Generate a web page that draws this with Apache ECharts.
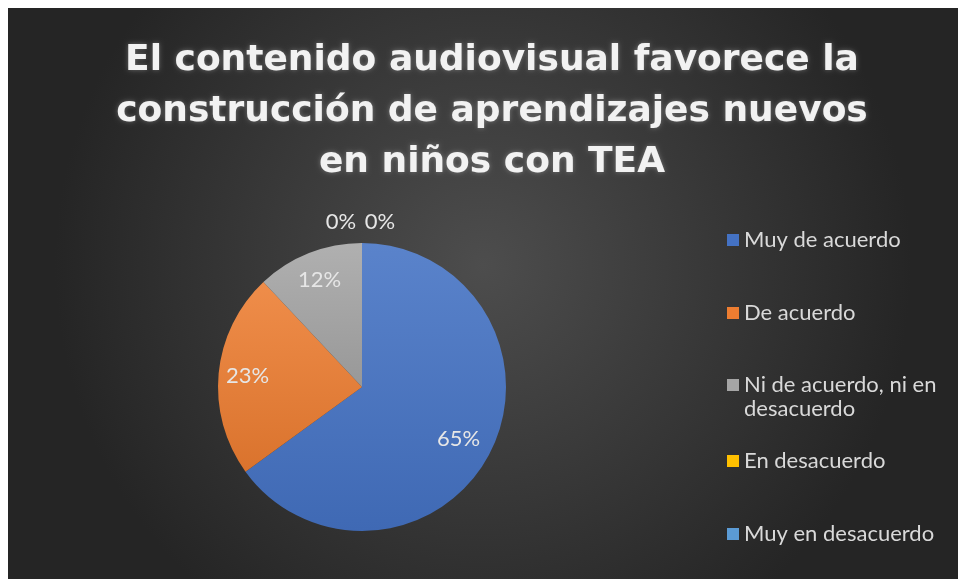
<!DOCTYPE html>
<html>
<head>
<meta charset="utf-8">
<script src="https://cdn.jsdelivr.net/npm/echarts@6/dist/echarts.min.js"></script>
<style>
html,body{margin:0;padding:0;background:#ffffff;}
#chart{position:absolute;left:8px;top:8px;width:950px;height:571px;}
</style>
</head>
<body>
<div id="chart"></div>
<script>
var titleText = 'El contenido audiovisual favorece la\nconstrucción de aprendizajes nuevos\nen niños con TEA';
var categories = ['Muy de acuerdo', 'De acuerdo', 'Ni de acuerdo, ni en desacuerdo', 'En desacuerdo', 'Muy en desacuerdo'];
var values = [65, 23, 12, 0, 0];
var colors = ['#4472C4', '#ED7D31', '#A5A5A5', '#FFC000', '#5B9BD5'];
var legendLabels = ['Muy de acuerdo', 'De acuerdo', '\nNi de acuerdo, ni en\ndesacuerdo', 'En desacuerdo', 'Muy en desacuerdo'];

function shade(hex, amt) {
  var n = parseInt(hex.slice(1), 16);
  var r = (n >> 16) & 255, g = (n >> 8) & 255, b = n & 255;
  function f(c) { return Math.max(0, Math.min(255, Math.round(amt > 0 ? c + (255 - c) * amt : c * (1 + amt)))); }
  return 'rgb(' + f(r) + ',' + f(g) + ',' + f(b) + ')';
}

var chart = echarts.init(document.getElementById('chart'), null, {renderer: 'canvas'});

var pieData = categories.map(function (c, i) {
  return {
    name: c,
    value: values[i],
    itemStyle: {
      color: {
        type: 'linear', x: 0, y: 0, x2: 0, y2: 1,
        colorStops: [{offset: 0, color: shade(colors[i], 0.12)}, {offset: 1, color: shade(colors[i], -0.08)}]
      }
    }
  };
});
var labelData = categories.map(function (c, i) {
  return {name: c, value: values[i]};
});

var legendTops = [220, 293, 341, 441, 514];
var legends = categories.map(function (c, i) {
  return {
    orient: 'vertical',
    left: 719,
    top: legendTops[i],
    padding: 0,
    icon: 'rect',
    itemWidth: 12,
    itemHeight: 12,
    selectedMode: false,
    data: [{name: c, itemStyle: {color: colors[i]}}],
    formatter: function () { return legendLabels[i]; },
    textStyle: {color: '#d9d9d9', fontSize: 22, lineHeight: 24, fontFamily: 'Lato'}
  };
});

chart.setOption({
  backgroundColor: {
    type: 'radial', x: 0.5, y: 0.45, r: 0.75,
    colorStops: [{offset: 0, color: '#4d4d4d'}, {offset: 1, color: '#252525'}]
  },
  title: {
    text: titleText,
    left: 479,
    textAlign: 'center',
    top: 22,
    textStyle: {
      color: '#f2f2f2',
      fontSize: 36,
      fontWeight: 'bold',
      lineHeight: 51,
      fontFamily: 'DejaVu Sans',
      textShadowColor: 'rgba(255,255,255,0.3)',
      textShadowBlur: 5
    }
  },
  legend: legends,
  series: [
    {
      type: 'pie',
      center: [354, 379],
      radius: [0, 144],
      startAngle: 90,
      clockwise: true,
      avoidLabelOverlap: false,
      label: {show: false},
      labelLine: {show: false},
      emphasis: {disabled: true},
      data: pieData
    },
    {
      type: 'pie',
      center: [354, 379],
      radius: [80, 144],
      startAngle: 90,
      clockwise: true,
      silent: true,
      avoidLabelOverlap: false,
      itemStyle: {color: 'rgba(0,0,0,0)'},
      legendHoverLink: false,
      label: {
        show: true,
        position: 'inside',
        color: '#e6e6e6',
        fontSize: 22,
        fontFamily: 'Lato',
        formatter: function (p) { return Math.round(p.percent) + '%'; }
      },
      labelLine: {show: false},
      labelLayout: function (p) {
        if (values[p.dataIndex] === 0) {
          return {dx: p.dataIndex === 3 ? -21 : 18, dy: -50};
        }
        if (p.dataIndex === 0) {
          return {dx: -6};
        }
        return {};
      },
      data: labelData
    }
  ]
});
</script>
</body>
</html>
